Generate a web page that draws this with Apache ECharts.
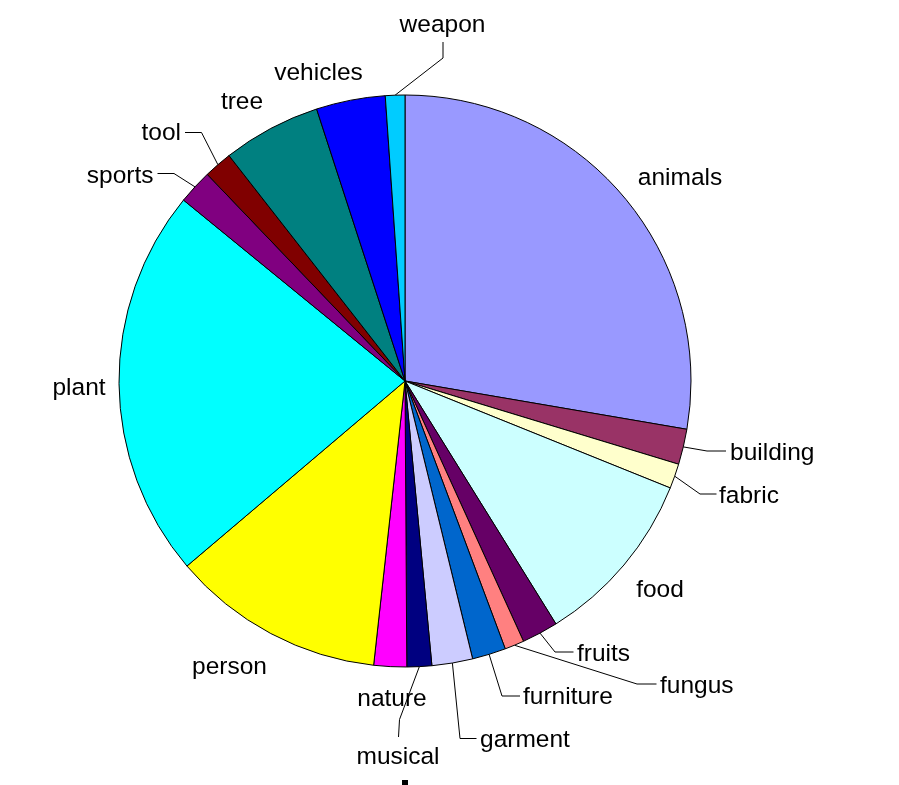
<!DOCTYPE html>
<html>
<head>
<meta charset="utf-8">
<script src="https://cdn.jsdelivr.net/npm/echarts/dist/echarts.min.js"></script>
<style>
html, body { margin: 0; padding: 0; background: #fff; }
#chart { width: 899px; height: 785px; }
</style>
</head>
<body>
<div id="chart"></div>
<script>
const categories = ['animals', 'building', 'fabric', 'food', 'fruits', 'fungus', 'furniture', 'garment',
    'musical', 'nature', 'person', 'plant', 'sports', 'tool', 'tree', 'vehicles', 'weapon']
const shares = [27.7, 2.0, 1.4, 10.05, 2.05, 1.1, 1.9, 2.3, 1.4, 1.85, 12.05, 22.1, 1.95, 1.6, 5.55, 3.9, 1.1]
const sliceColors = ['#9999ff', '#993366', '#ffffcc', '#ccffff', '#660066', '#ff8080', '#0066cc', '#ccccff',
    '#000080', '#ff00ff', '#ffff00', '#00ffff', '#800080', '#800000', '#008080', '#0000ff', '#00ccff']

// where each label sits, and the elbow / end of its leader line (no bend = no line)
const labelSpots = {
    animals:   { x: 680, y: 176, align: 'center' },
    building:  { x: 730, y: 451.5, align: 'left', bend: [707, 451], end: [726, 451] },
    fabric:    { x: 719, y: 494, align: 'left', bend: [700, 494], end: [716.5, 494] },
    food:      { x: 660, y: 588, align: 'center' },
    fruits:    { x: 577, y: 652, align: 'left', bend: [555, 652], end: [573.5, 652] },
    fungus:    { x: 660, y: 684, align: 'left', bend: [637, 684], end: [656.5, 684] },
    furniture: { x: 523, y: 695, align: 'left', bend: [502, 696], end: [520, 696] },
    garment:   { x: 480, y: 738.5, align: 'left', bend: [460, 738.5], end: [476.5, 738.5] },
    musical:   { x: 398, y: 755.5, align: 'center', bend: [399.5, 719.5], end: [398.5, 737] },
    nature:    { x: 392, y: 697, align: 'center' },
    person:    { x: 229.5, y: 665, align: 'center' },
    plant:     { x: 79, y: 386, align: 'center' },
    sports:    { x: 153.5, y: 174, align: 'right', bend: [174, 173.5], end: [157.5, 173.5] },
    tool:      { x: 181, y: 131.5, align: 'right', bend: [201.5, 132.5], end: [185, 132.5] },
    tree:      { x: 242, y: 100.5, align: 'center' },
    vehicles:  { x: 318.5, y: 71.5, align: 'center' },
    weapon:    { x: 442.5, y: 23, align: 'center', bend: [443, 58], end: [443, 42] }
}
const textShift = 2

const pieData = categories.map((name, i) => ({
    name: name,
    value: shares[i],
    itemStyle: { color: sliceColors[i] },
    labelLine: { show: !!labelSpots[name].bend }
}))

const chart = echarts.init(document.getElementById('chart'), null, { renderer: 'canvas' })

chart.setOption({
    animation: false,
    backgroundColor: '#ffffff',
    series: [
        {
            type: 'pie',
            center: [405, 381],
            radius: 286,
            startAngle: 90,
            clockwise: true,
            avoidLabelOverlap: false,
            itemStyle: {
                borderColor: '#000000',
                borderWidth: 1
            },
            label: {
                show: true,
                position: 'outside',
                color: '#000000',
                fontFamily: '"Liberation Sans", Arial, sans-serif',
                fontSize: 24.5,
                formatter: '{b}'
            },
            labelLine: {
                show: true,
                length: 15,
                length2: 15,
                lineStyle: { color: '#000000', width: 1 }
            },
            labelLayout: (params) => {
                const spot = labelSpots[categories[params.dataIndex]]
                const out = { x: spot.x, y: spot.y + textShift, align: spot.align, verticalAlign: 'middle' }
                if (spot.bend && params.labelLinePoints) {
                    out.labelLinePoints = [params.labelLinePoints[0], spot.bend, spot.end]
                }
                return out
            },
            emphasis: { disabled: true },
            data: pieData
        }
    ],
    graphic: [
        {
            type: 'rect',
            shape: { x: 402, y: 780, width: 6, height: 5 },
            style: { fill: '#000000' }
        }
    ]
})
</script>
</body>
</html>
